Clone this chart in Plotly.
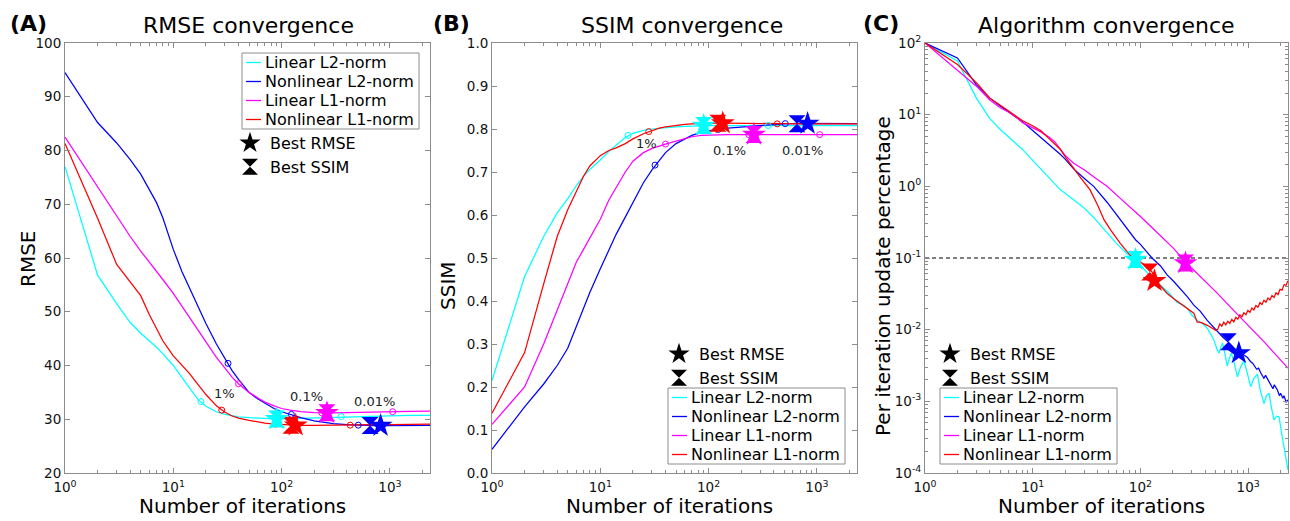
import numpy as np
import plotly.graph_objects as go

# ---------------- data ----------------
series_names = ["Linear L2-norm", "Nonlinear L2-norm", "Linear L1-norm", "Nonlinear L1-norm"]
series_colors = ["#00ffff", "#0000ff", "#ff00ff", "#ff0000"]

# iterations sampled for panels A and B
iters_ab = [1, 2, 3, 4, 5, 6, 7, 8, 10, 12, 14, 17, 20, 25, 30, 35, 40, 50, 60, 70, 85,
            100, 120, 150, 200, 250, 300, 400, 500, 700, 1000, 1500, 2344]

rmse_lin_l2 = [77.0, 56.8, 51.5, 48.0, 46.0, 44.6, 43.4, 42.2, 40.0, 37.8, 35.9, 33.6, 32.4, 31.4,
               30.9, 30.6, 30.45, 30.3, 30.2, 30.1, 30.05, 30.05, 30.1, 30.2, 30.3, 30.4, 30.45,
               30.5, 30.55, 30.6, 30.65, 30.7, 30.7]
rmse_nonlin_l2 = [94.5, 85.2, 81.4, 78.3, 75.6, 72.7, 70.3, 67.5, 61.6, 57.5, 54.5, 50.8, 47.8, 44.0,
                  41.2, 39.0, 37.4, 35.0, 33.8, 33.0, 32.0, 31.4, 30.9, 30.3, 29.7, 29.4, 29.2,
                  29.0, 28.9, 28.8, 28.8, 28.8, 28.85]
rmse_lin_l1 = [82.5, 73.2, 67.7, 64.0, 61.3, 59.3, 57.5, 56.0, 53.4, 51.0, 49.0, 46.5, 44.5, 41.5,
               39.5, 37.8, 36.6, 35.0, 34.0, 33.2, 32.5, 32.0, 31.7, 31.4, 31.25, 31.2, 31.2,
               31.25, 31.3, 31.35, 31.4, 31.45, 31.5]
rmse_nonlin_l1 = [81.3, 67.4, 58.8, 55.5, 53.0, 49.5, 46.8, 44.6, 41.8, 40.0, 38.6, 36.4, 34.6, 32.5,
                  31.3, 30.6, 30.2, 29.8, 29.5, 29.3, 29.1, 29.0, 28.9, 28.85, 28.85, 28.9, 28.9,
                  28.9, 28.95, 29.0, 29.0, 29.05, 29.1]

ssim_lin_l2 = [0.215, 0.457, 0.55, 0.605, 0.638, 0.668, 0.69, 0.706, 0.728, 0.748, 0.762, 0.78, 0.79,
               0.797, 0.80, 0.802, 0.803, 0.805, 0.806, 0.807, 0.808, 0.808, 0.808, 0.808, 0.808,
               0.808, 0.808, 0.808, 0.808, 0.808, 0.808, 0.808, 0.808]
ssim_nonlin_l2 = [0.055, 0.154, 0.207, 0.25, 0.29, 0.34, 0.387, 0.42, 0.475, 0.52, 0.555, 0.595, 0.63,
                  0.675, 0.705, 0.728, 0.745, 0.766, 0.777, 0.785, 0.792, 0.796, 0.799, 0.802, 0.805,
                  0.807, 0.808, 0.81, 0.812, 0.813, 0.813, 0.813, 0.8125]
ssim_lin_l1 = [0.113, 0.2, 0.30, 0.38, 0.44, 0.49, 0.52, 0.545, 0.59, 0.635, 0.665, 0.70, 0.725,
               0.745, 0.755, 0.761, 0.765, 0.772, 0.778, 0.782, 0.785, 0.786, 0.787, 0.787, 0.787,
               0.787, 0.787, 0.787, 0.787, 0.787, 0.787, 0.787, 0.787]
ssim_nonlin_l1 = [0.139, 0.28, 0.44, 0.55, 0.612, 0.655, 0.69, 0.714, 0.738, 0.75, 0.756, 0.766, 0.777,
                  0.789, 0.797, 0.802, 0.805, 0.809, 0.811, 0.812, 0.813, 0.8135, 0.8135, 0.8135,
                  0.813, 0.813, 0.8125, 0.8125, 0.812, 0.812, 0.812, 0.812, 0.812]

# panel C : per-iteration update percentage
c_iters_lin_l2 = [1, 2, 3, 4, 5, 6, 7, 8, 10, 12, 15, 18, 24, 30, 36, 46, 60, 75, 90, 110,
                  133, 153, 190, 219, 250, 272, 300, 336, 380, 417, 450, 481, 510, 535, 560, 580,
                  610, 640, 670, 698, 740, 795, 850, 914, 980, 1055, 1130, 1218, 1300, 1404, 1480,
                  1563, 1650, 1740, 1840, 1937, 2050, 2155, 2250, 2344]
c_lin_l2 = [100, 56, 17, 8.8, 6.2, 4.9, 3.9, 3.3, 2.3, 1.72, 1.2, 0.9, 0.65, 0.5, 0.38, 0.25, 0.16,
            0.115, 0.095, 0.068, 0.05, 0.042, 0.031, 0.024, 0.022, 0.02, 0.016, 0.0135, 0.012,
            0.0105, 0.0085, 0.0072, 0.0055, 0.0047, 0.0058, 0.0065, 0.0045, 0.0031, 0.004, 0.0047,
            0.0035, 0.0022, 0.003, 0.0037, 0.0025, 0.0016, 0.0021, 0.0024, 0.0014, 0.00093,
            0.0012, 0.0013, 0.0008, 0.00055, 0.00062, 0.00061, 0.00035, 0.00023, 0.00016, 0.00011]

c_iters_nonlin_l2 = [1, 2, 3, 4, 5, 6, 7, 8, 10, 12, 15, 18, 20, 24, 30, 37, 49, 60, 75, 90, 100,
                     115, 128, 153, 177, 204, 235, 272, 313, 360, 417, 470, 517, 580, 663, 740,
                     821, 900, 984, 1050, 1100, 1200, 1250, 1307, 1400, 1450, 1550, 1600, 1700,
                     1750, 1870, 1950, 2000, 2100, 2150, 2250, 2344]
c_nonlin_l2 = [100, 62, 26, 17, 13.2, 11, 9.2, 8, 6, 4.8, 3.6, 2.8, 2.4, 1.75, 1.3, 0.99, 0.6, 0.4,
               0.26, 0.18, 0.155, 0.12, 0.1, 0.078, 0.058, 0.047, 0.037, 0.029, 0.022, 0.018,
               0.0135, 0.011, 0.0093, 0.0079, 0.0066, 0.0056, 0.0047, 0.0045, 0.0041, 0.0036,
               0.0034, 0.0028, 0.0029, 0.0025, 0.0021, 0.0023, 0.0019, 0.0018, 0.0015, 0.0017,
               0.00144, 0.0012, 0.0013, 0.0011, 0.0012, 0.00098, 0.00105]

c_iters_lin_l1 = [1, 2, 3, 4, 5, 6, 7, 8, 10, 12, 14, 16, 18, 20, 24, 30, 37, 49, 65, 80, 100,
                  130, 160, 204, 262, 350, 500, 700, 1000, 1400, 1900, 2344]
c_lin_l1 = [100, 42, 25, 16, 12.5, 10.8, 9.3, 7.8, 6.6, 5.7, 4.9, 4.2, 3.3, 2.7, 2.1, 1.7, 1.35,
            1.0, 0.68, 0.52, 0.38, 0.26, 0.195, 0.135, 0.088, 0.058, 0.034, 0.02, 0.0115, 0.0068,
            0.0041, 0.0029]

c_iters_nonlin_l1 = [1, 2, 3, 4, 5, 6, 7, 8, 10, 12, 14, 16, 18, 20, 24, 28, 34, 40, 46, 53, 65,
                     80, 95, 110, 128, 138, 153, 177, 204, 235, 272, 313, 336, 370, 417, 464, 500,
                     522, 545, 569, 594, 620, 647, 676, 705, 736, 769, 802, 838, 874, 913, 953, 995,
                     1038, 1084, 1131, 1181, 1233, 1287, 1343, 1402, 1464, 1528, 1595, 1665, 1738,
                     1814, 1894, 1977, 2064, 2154, 2249, 2344]
c_nonlin_l1 = [100, 50, 28, 17, 13.5, 11.3, 9.6, 8.3, 7.0, 5.9, 4.7, 3.9, 3.3, 2.6, 1.75, 1.3, 0.9,
               0.55, 0.34, 0.245, 0.16, 0.11, 0.092, 0.08, 0.064, 0.048, 0.041, 0.032, 0.027,
               0.023, 0.02, 0.017, 0.0128, 0.0125, 0.0115, 0.0105, 0.0098,
               0.0101, 0.0120, 0.0112, 0.0127, 0.0117, 0.0131, 0.0122, 0.0139, 0.0129, 0.0149,
               0.0140, 0.0161, 0.0151, 0.0172, 0.0162, 0.0186, 0.0174, 0.0201, 0.0189, 0.0217,
               0.0206, 0.0238, 0.0224, 0.0257, 0.0241, 0.0277, 0.0260, 0.0299, 0.0282, 0.0328,
               0.0309, 0.0365, 0.0356, 0.0425, 0.0418, 0.0480]

# iterations where update percentage crosses 1 %, 0.1 %, 0.01 %
thr_iters = [[18, 88, 355], [32, 123, 510], [40, 235, 1060], [28, 88, 430]]
thr_rmse = [[33.3, 30.05, 30.5], [40.4, 30.9, 28.9], [36.6, 31.2, 31.4], [31.7, 29.1, 28.9]]
thr_ssim = [[0.785, 0.808, 0.808], [0.716, 0.799, 0.8125], [0.765, 0.787, 0.787], [0.794, 0.812, 0.812]]
thr_labels = ["1%", "0.1%", "0.01%"]

# best RMSE (star) and best SSIM (hourglass) iterations
best_rmse_iter = [90, 820, 262, 135]
best_ssim_iter = [90, 655, 262, 122]
best_rmse_rmse = [30.05, 28.8, 31.2, 28.85]
best_ssim_rmse = [30.05, 28.85, 31.2, 28.9]
best_rmse_ssim = [0.808, 0.8125, 0.787, 0.8135]
best_ssim_ssim = [0.808, 0.8125, 0.787, 0.8135]
best_rmse_upd = [0.095, 0.0047, 0.085, 0.048]
best_ssim_upd = [0.095, 0.0068, 0.085, 0.064]

threshold_pct = 0.1

x_tick_vals = [1, 10, 100, 1000]
x_tick_text = ["10<sup>0</sup>", "10<sup>1</sup>", "10<sup>2</sup>", "10<sup>3</sup>"]
c_y_tick_vals = [1e-4, 1e-3, 1e-2, 1e-1, 1e0, 1e1, 1e2]
c_y_tick_text = ["10<sup>-4</sup>", "10<sup>-3</sup>", "10<sup>-2</sup>", "10<sup>-1</sup>",
                 "10<sup>0</sup>", "10<sup>1</sup>", "10<sup>2</sup>"]

# ---------------- figure ----------------
W, H = 1290, 521
FONT = "DejaVu Sans"
FRAME = "#8c8c8c"
TXT = "#111111"


def px(p):
    return p / W


def py(p):
    return 1 - p / H


rmse_all = [rmse_lin_l2, rmse_nonlin_l2, rmse_lin_l1, rmse_nonlin_l1]
ssim_all = [ssim_lin_l2, ssim_nonlin_l2, ssim_lin_l1, ssim_nonlin_l1]
c_x_all = [c_iters_lin_l2, c_iters_nonlin_l2, c_iters_lin_l1, c_iters_nonlin_l1]
c_y_all = [c_lin_l2, c_nonlin_l2, c_lin_l1, c_nonlin_l1]

fig = go.Figure()

panels = [
    ("x", "y", [iters_ab] * 4, rmse_all, thr_rmse, best_rmse_rmse, best_ssim_rmse),
    ("x2", "y2", [iters_ab] * 4, ssim_all, thr_ssim, best_rmse_ssim, best_ssim_ssim),
    ("x3", "y3", c_x_all, c_y_all, None, best_rmse_upd, best_ssim_upd),
]

for xa, ya, xs, ys, thr, brm, bss in panels:
    if xa == "x3":
        fig.add_trace(go.Scatter(x=[iters_ab[0], iters_ab[-1]], y=[threshold_pct, threshold_pct],
                                 mode="lines", line=dict(color="black", width=1, dash="4px,3px"),
                                 xaxis=xa, yaxis=ya, showlegend=False, hoverinfo="skip"))
    for i in range(4):
        fig.add_trace(go.Scatter(x=xs[i], y=ys[i], mode="lines", name=series_names[i],
                                 line=dict(color=series_colors[i], width=1.25),
                                 xaxis=xa, yaxis=ya, showlegend=False))
    if thr is not None:
        for i in range(4):
            fig.add_trace(go.Scatter(x=thr_iters[i], y=thr[i], mode="markers",
                                     marker=dict(symbol="circle-open", size=6,
                                                 color=series_colors[i], line=dict(width=1)),
                                     xaxis=xa, yaxis=ya, showlegend=False, hoverinfo="skip"))
    for i in range(4):
        fig.add_trace(go.Scatter(x=[best_ssim_iter[i]], y=[bss[i]], mode="markers",
                                 marker=dict(symbol="hourglass", size=17, color=series_colors[i],
                                             line=dict(width=0)),
                                 xaxis=xa, yaxis=ya, showlegend=False))
    for i in range(4):
        fig.add_trace(go.Scatter(x=[best_rmse_iter[i]], y=[brm[i]], mode="markers",
                                 marker=dict(symbol="star", size=18, color=series_colors[i],
                                             line=dict(width=0)),
                                 xaxis=xa, yaxis=ya, showlegend=False))

# legend keys for the markers (native legends)
for lg, xa, ya in [("legend", "x", "y"), ("legend2", "x2", "y2"), ("legend3", "x3", "y3")]:
    fig.add_trace(go.Scatter(x=[None], y=[None], mode="markers", name="Best RMSE",
                             marker=dict(symbol="star", size=16, color="black"),
                             xaxis=xa, yaxis=ya, legend=lg, showlegend=True))
    fig.add_trace(go.Scatter(x=[None], y=[None], mode="markers", name="Best SSIM",
                             marker=dict(symbol="hourglass", size=16, color="black"),
                             xaxis=xa, yaxis=ya, legend=lg, showlegend=True))

minor_x = [m * 10 ** e for e in range(0, 4) for m in range(2, 10) if m * 10 ** e <= iters_ab[-1]]
minor_c_y = [m * 10.0 ** e for e in range(-4, 2) for m in range(2, 10)]

axis_common = dict(showline=True, linecolor=FRAME, linewidth=1, mirror="ticks", ticks="inside",
                   ticklen=5, tickwidth=1, tickcolor=FRAME, showgrid=False, zeroline=False,
                   automargin=False,
                   tickfont=dict(size=13.5, color=TXT, family=FONT))
x_log = dict(type="log", range=[0, np.log10(iters_ab[-1])], tickmode="array",
             tickvals=x_tick_vals, ticktext=x_tick_text, ticklabelstandoff=2,
             minor=dict(tickmode="array", tickvals=minor_x, ticks="inside", ticklen=3,
                        tickcolor=FRAME, showgrid=False))

ydom = [py(473), py(43)]
fig.update_layout(
    xaxis=dict(domain=[px(65), px(430)], anchor="y", **x_log, **axis_common),
    yaxis=dict(domain=ydom, anchor="x", range=[20, 100], dtick=10, **axis_common),
    xaxis2=dict(domain=[px(492), px(857)], anchor="y2", **x_log, **axis_common),
    yaxis2=dict(domain=ydom, anchor="x2", range=[0, 1], dtick=0.1, tickformat=".1f", **axis_common),
    xaxis3=dict(domain=[px(925), px(1288)], anchor="y3", **x_log, **axis_common),
    yaxis3=dict(domain=ydom, anchor="x3", type="log", range=[-4, 2], tickmode="array",
                tickvals=c_y_tick_vals, ticktext=c_y_tick_text,
                minor=dict(tickmode="array", tickvals=minor_c_y, ticks="inside", ticklen=3,
                           tickcolor=FRAME, showgrid=False),
                **axis_common),
)

leg_common = dict(xanchor="left", yanchor="top", bgcolor="rgba(0,0,0,0)", borderwidth=0,
                  font=dict(size=16, color="black", family=FONT), tracegroupgap=0)
fig.update_layout(
    legend=dict(x=px(230), y=py(126), **leg_common),
    legend2=dict(x=px(659), y=py(337), **leg_common),
    legend3=dict(x=px(930), y=py(337), **leg_common),
)

# manual line legends (box, line samples, labels)
shapes = []
annotations = []
for left, top in [(242, 53), (668, 388), (940, 388)]:
    shapes.append(dict(type="rect", xref="paper", yref="paper", x0=px(left), x1=px(left + 177),
                       y0=py(top + 76), y1=py(top), line=dict(color=FRAME, width=1),
                       fillcolor="white", layer="above"))
    for i in range(4):
        ry = top + 9.5 + 19 * i
        shapes.append(dict(type="line", xref="paper", yref="paper", x0=px(left + 4),
                           x1=px(left + 19), y0=py(ry), y1=py(ry),
                           line=dict(color=series_colors[i], width=1.3), layer="above"))
        annotations.append(dict(x=px(left + 21), y=py(ry), xref="paper", yref="paper",
                                text=series_names[i], showarrow=False, xanchor="left",
                                yanchor="middle", font=dict(size=16, color="black", family=FONT)))

# titles, panel labels, axis titles
for lab, lx, title, tx, ytitle, yx, yy, xc in [
    ("(A)", 8, "RMSE convergence", 248, "RMSE", 28, 259, 242),
    ("(B)", 431, "SSIM convergence", 682, "SSIM", 448, 286, 669),
    ("(C)", 861, "Algorithm convergence", 1106, "Per iteration update percentage", 883, 276, 1101),
]:
    annotations.append(dict(x=px(lx), y=py(23), xref="paper", yref="paper", text="<b>%s</b>" % lab,
                            showarrow=False, xanchor="left", yanchor="middle",
                            font=dict(size=22, color="black", family=FONT)))
    annotations.append(dict(x=px(tx), y=py(25), xref="paper", yref="paper", text=title,
                            showarrow=False, xanchor="center", yanchor="middle",
                            font=dict(size=22, color="black", family=FONT)))
    annotations.append(dict(x=px(xc), y=py(506), xref="paper", yref="paper",
                            text="Number of iterations", showarrow=False, xanchor="center",
                            yanchor="middle", font=dict(size=20, color="black", family=FONT)))
    annotations.append(dict(x=px(yx), y=py(yy), xref="paper", yref="paper", text=ytitle,
                            textangle=-90, showarrow=False, xanchor="center", yanchor="middle",
                            font=dict(size=20, color="black", family=FONT)))

# threshold labels
for xa, ya, pos in [("x", "y", [(29.8, 34.7), (169, 34.2), (720, 33.3)]),
                    ("x2", "y2", [(26.9, 0.767), (155, 0.751), (728, 0.751)])]:
    for t, (xv, yv) in zip(thr_labels, pos):
        annotations.append(dict(x=np.log10(xv), y=yv, xref=xa, yref=ya, text=t, showarrow=False,
                                xanchor="center", yanchor="middle",
                                font=dict(size=13, color="#222222", family=FONT)))

fig.update_layout(
    width=W, height=H, autosize=False,
    margin=dict(l=0, r=0, t=0, b=0, pad=0, autoexpand=False),
    paper_bgcolor="white", plot_bgcolor="white",
    font=dict(family=FONT, color="black"),
    shapes=shapes, annotations=annotations,
)

fig.write_html("out.html", config={"displayModeBar": False},
               post_script="document.body.style.margin='0px';")
